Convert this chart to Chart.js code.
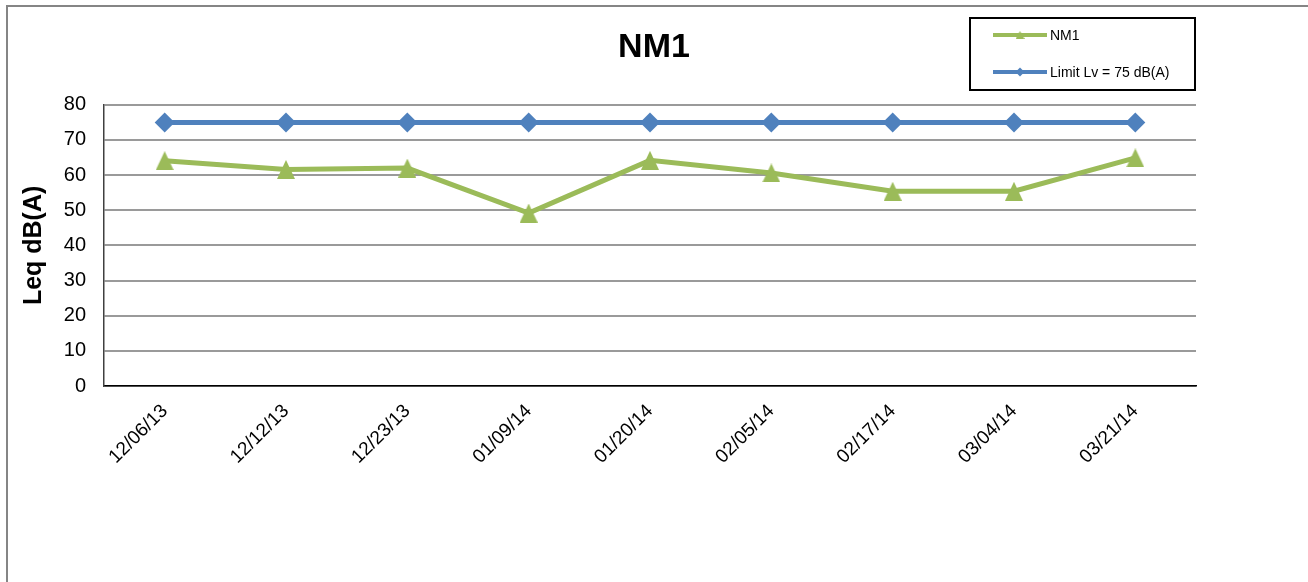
<!DOCTYPE html>
<html>
<head>
<meta charset="utf-8">
<title>NM1</title>
<script src="https://cdn.jsdelivr.net/npm/chart.js@4.4.1/dist/chart.umd.min.js"></script>
<style>
    html, body { margin: 0; padding: 0; background: #fff; overflow: hidden; }
    #frame { position: absolute; left: 6px; top: 5px; width: 1400px; height: 700px; border: 2px solid #858585; }
    #wrap { position: absolute; left: 0; top: 0; width: 1308px; height: 582px; }
</style>
</head>
<body>
<div id="frame"></div>
<div id="wrap"><canvas id="nmChart"></canvas></div>
<script>
// --- dados ---
const categories = ['12/06/13', '12/12/13', '12/23/13', '01/09/14', '01/20/14', '02/05/14', '02/17/14', '03/04/14', '03/21/14'];
const nm1Values = [64.1, 61.6, 62.0, 49.2, 64.2, 60.6, 55.4, 55.4, 64.9];
const limitValues = [75, 75, 75, 75, 75, 75, 75, 75, 75];
const yTicks = [0, 10, 20, 30, 40, 50, 60, 70, 80];

const FONT = 'Liberation Sans, Arial, sans-serif';
const GREEN = '#9BBB59';
const BLUE = '#4F81BD';

// triângulo do marcador (mais alto que o padrão do Chart.js)
function makeTriangle(w, h, color) {
    const c = document.createElement('canvas');
    c.width = w;
    c.height = h;
    const g = c.getContext('2d');
    g.fillStyle = color;
    g.beginPath();
    g.moveTo(w / 2, 0);
    g.lineTo(w, h);
    g.lineTo(0, h);
    g.closePath();
    g.fill();
    return c;
}
const bigTriangle = makeTriangle(18, 19, GREEN);
const smallTriangle = makeTriangle(9, 8, GREEN);

// legenda desenhada numa caixa, como no original
const boxLegend = {
    id: 'boxLegend',
    afterDraw(chart) {
        const ctx = chart.ctx;
        const box = { x: 970, y: 18, w: 225, h: 72 };
        ctx.save();
        ctx.fillStyle = '#fff';
        ctx.fillRect(box.x, box.y, box.w, box.h);
        ctx.strokeStyle = '#000';
        ctx.lineWidth = 2;
        ctx.strokeRect(box.x, box.y, box.w, box.h);

        const rows = [35, 72];
        chart.data.datasets.forEach((ds, i) => {
            const y = rows[i];
            ctx.strokeStyle = ds.borderColor;
            ctx.lineWidth = 4;
            ctx.beginPath();
            ctx.moveTo(993, y);
            ctx.lineTo(1047, y);
            ctx.stroke();
            ctx.fillStyle = ds.backgroundColor;
            if (i === 0) {
                ctx.drawImage(smallTriangle, 1020 - 4.5, y - 4);
            } else {
                Chart.helpers.drawPoint(ctx, { pointStyle: 'rectRot', radius: 4.5, borderWidth: 0 }, 1020, y);
            }
            ctx.fillStyle = '#000';
            ctx.font = '14px ' + FONT;
            ctx.textBaseline = 'middle';
            ctx.textAlign = 'left';
            ctx.fillText(ds.label, 1050, y + 1);
        });
        ctx.restore();
    }
};

const ctx = document.getElementById('nmChart').getContext('2d');
new Chart(ctx, {
    type: 'line',
    data: {
        labels: categories,
        datasets: [
            {
                label: 'NM1',
                data: nm1Values,
                borderColor: GREEN,
                backgroundColor: GREEN,
                borderWidth: 5,
                pointStyle: bigTriangle,
                pointRadius: 10,
                pointBorderWidth: 0,
                tension: 0
            },
            {
                label: 'Limit Lv = 75 dB(A)',
                data: limitValues,
                borderColor: BLUE,
                backgroundColor: BLUE,
                borderWidth: 5,
                pointStyle: 'rectRot',
                pointRadius: 10,
                pointBorderWidth: 0,
                tension: 0
            }
        ]
    },
    options: {
        responsive: true,
        maintainAspectRatio: false,
        animation: false,
        layout: { padding: 0 },
        scales: {
            x: {
                offset: true,
                grid: { display: false, drawTicks: false },
                border: { display: true, color: '#000', width: 1.5 },
                ticks: {
                    color: '#000',
                    font: { family: FONT, size: 19 },
                    minRotation: 45,
                    maxRotation: 45,
                    padding: 14,
                    autoSkip: false
                },
                afterFit(scale) { scale.height = 196; }
            },
            y: {
                min: 0,
                max: 80,
                afterBuildTicks(scale) { scale.ticks = yTicks.map(v => ({ value: v })); },
                grid: { color: '#9a9a9a', lineWidth: 2, drawTicks: false },
                border: { display: true, color: '#404040', width: 1.5 },
                ticks: {
                    color: '#000',
                    font: { family: FONT, size: 20 },
                    padding: 18
                },
                title: {
                    display: true,
                    text: 'Leq dB(A)',
                    color: '#000',
                    font: { family: FONT, size: 25, weight: 'bold' },
                    padding: { top: 19, bottom: 0 }
                },
                afterFit(scale) { scale.width = 104; }
            },
            // eixo vazio só para reservar a margem direita
            spacer: {
                position: 'right',
                display: true,
                grid: { display: false, drawTicks: false },
                border: { display: false },
                ticks: { display: false },
                afterFit(scale) { scale.width = 112; }
            }
        },
        plugins: {
            legend: { display: false },
            tooltip: { enabled: false },
            title: {
                display: true,
                text: 'NM1',
                color: '#000',
                font: { family: FONT, size: 34, weight: 'bold' },
                padding: { top: 27, bottom: 37 }
            }
        }
    },
    plugins: [boxLegend]
});
</script>
</body>
</html>
